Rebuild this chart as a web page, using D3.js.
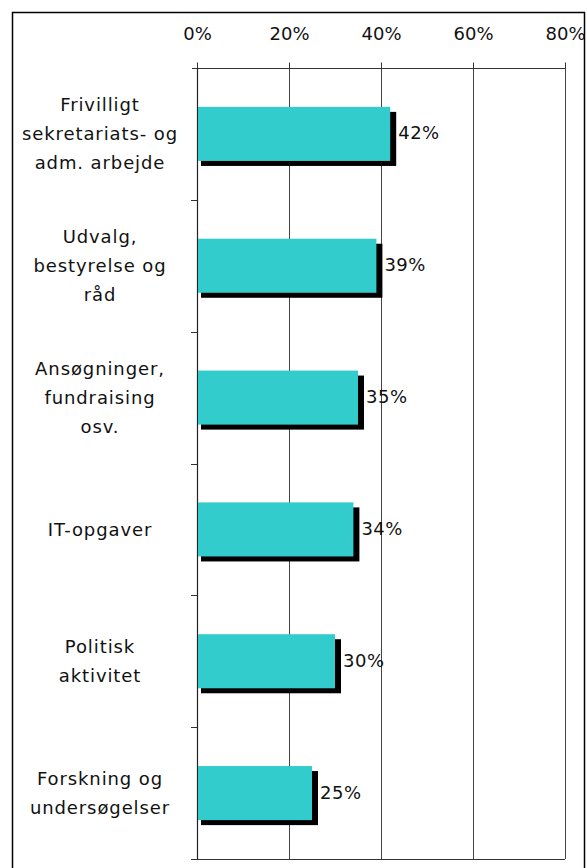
<!DOCTYPE html>
<html>
<head>
<meta charset="utf-8">
<script src="https://cdn.jsdelivr.net/npm/d3@7"></script>
<style>
  body { margin: 0; background: #fff; }
  svg { display: block; }
  text { font-family: "DejaVu Sans", Verdana, sans-serif; fill: #111; }
</style>
</head>
<body>
<script>
'use strict';

// Chart data
const categories = [
    'Frivilligt sekretariats- og adm. arbejde',
    'Udvalg, bestyrelse og råd',
    'Ansøgninger, fundraising osv.',
    'IT-opgaver',
    'Politisk aktivitet',
    'Forskning og undersøgelser'
];
const labelLines = [
    ['Frivilligt', 'sekretariats- og', 'adm. arbejde'],
    ['Udvalg,', 'bestyrelse og', 'råd'],
    ['Ansøgninger,', 'fundraising', 'osv.'],
    ['IT-opgaver'],
    ['Politisk', 'aktivitet'],
    ['Forskning og', 'undersøgelser']
];
const values = [0.42, 0.39, 0.35, 0.34, 0.30, 0.25];
const xTicks = [0, 0.2, 0.4, 0.6, 0.8];

const width = 587;
const height = 868;
const plot = { left: 197, right: 565, top: 68, bottom: 859 };

const svg = d3.select('body').append('svg')
    .attr('width', width)
    .attr('height', height);

// Outer frame (bottom edge runs off the picture)
svg.append('rect')
    .attr('x', 12.5).attr('y', 12.5)
    .attr('width', 572).attr('height', 880)
    .attr('fill', 'none')
    .attr('stroke', '#000')
    .attr('stroke-width', 1.5);

const x = d3.scaleLinear().domain([0, 0.8]).range([plot.left, plot.right]);
const y = d3.scaleBand().domain(categories).range([plot.top, plot.bottom]).padding(0);

// Vertical gridlines
svg.append('g')
    .selectAll('line')
    .data(xTicks.slice(1))
    .join('line')
    .attr('x1', d => Math.round(x(d)) + 0.5)
    .attr('x2', d => Math.round(x(d)) + 0.5)
    .attr('y1', plot.top)
    .attr('y2', plot.bottom)
    .attr('stroke', '#444')
    .attr('stroke-width', 1);

// Top axis with percent labels
const xAxis = svg.append('g')
    .attr('transform', `translate(0,${plot.top + 0.5})`)
    .call(d3.axisTop(x).tickValues(xTicks).tickSize(6).tickPadding(23)
        .tickFormat(d3.format('.0%')));
xAxis.select('.domain')
    .attr('d', `M${plot.left - 5},0H${plot.right}`)
    .attr('stroke', '#333')
    .attr('stroke-width', 1.2);
xAxis.selectAll('.tick line').attr('stroke', '#333');
xAxis.selectAll('.tick text')
    .style('font-size', '18px')
    .attr('fill', '#111');

// Bottom edge of the plot
svg.append('line')
    .attr('x1', plot.left - 5).attr('x2', plot.right)
    .attr('y1', plot.bottom + 0.5).attr('y2', plot.bottom + 0.5)
    .attr('stroke', '#333')
    .attr('stroke-width', 1.2);

// Left axis: ticks at category boundaries
const boundaries = categories.map(c => y(c)).concat([plot.bottom]);
svg.append('g')
    .selectAll('line')
    .data(boundaries.slice(1))
    .join('line')
    .attr('x1', plot.left - 6).attr('x2', plot.left)
    .attr('y1', d => Math.round(d) + 0.5)
    .attr('y2', d => Math.round(d) + 0.5)
    .attr('stroke', '#333');
svg.append('line')
    .attr('x1', plot.left + 0.5).attr('x2', plot.left + 0.5)
    .attr('y1', plot.top).attr('y2', plot.bottom)
    .attr('stroke', '#222')
    .attr('stroke-width', 1.2);

// Bars with drop shadow
const barH = y.bandwidth() * 0.41;
const shadow = 5;
const rows = categories.map((c, i) => ({ cat: c, value: values[i], lines: labelLines[i] }));

svg.append('g')
    .selectAll('rect')
    .data(rows)
    .join('rect')
    .attr('x', x(0) + 4)
    .attr('y', d => y(d.cat) + (y.bandwidth() - barH) / 2 + shadow)
    .attr('width', d => x(d.value) - x(0) + 2)
    .attr('height', barH)
    .attr('fill', '#000');

svg.append('g')
    .selectAll('rect')
    .data(rows)
    .join('rect')
    .attr('x', x(0) + 1)
    .attr('y', d => y(d.cat) + (y.bandwidth() - barH) / 2)
    .attr('width', d => x(d.value) - x(0) - 1)
    .attr('height', barH)
    .attr('fill', '#33CCCC');

// Value labels
svg.append('g')
    .selectAll('text')
    .data(rows)
    .join('text')
    .attr('x', d => x(d.value) + 8)
    .attr('y', d => y(d.cat) + y.bandwidth() / 2 - 1)
    .attr('dominant-baseline', 'central')
    .style('font-size', '18px')
    .style('letter-spacing', '0.5px')
    .text(d => d3.format('.0%')(d.value));

// Category labels, centered in the left margin
const lineH = 29;
const catLabels = svg.append('g')
    .selectAll('text')
    .data(rows)
    .join('text')
    .attr('text-anchor', 'middle')
    .style('font-size', '18px')
    .style('letter-spacing', '0.9px');
catLabels.each(function (d) {
    const t = d3.select(this);
    const cy = y(d.cat) + y.bandwidth() / 2;
    const y0 = cy - (d.lines.length - 1) * lineH / 2;
    d.lines.forEach((ln, i) => {
        t.append('tspan')
            .attr('x', 100)
            .attr('y', y0 + i * lineH)
            .attr('dominant-baseline', 'central')
            .text(ln);
    });
});
</script>
</body>
</html>
